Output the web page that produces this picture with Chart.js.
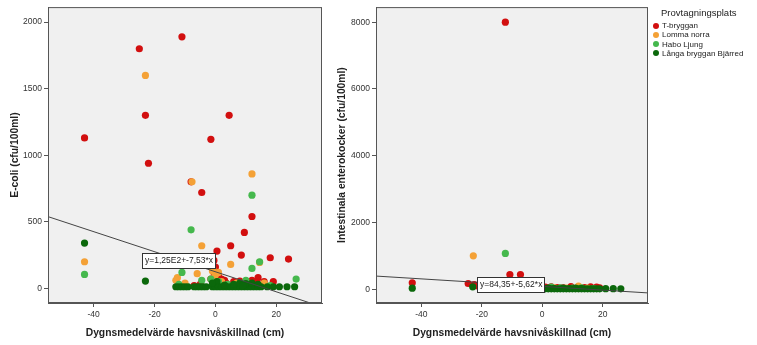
<!DOCTYPE html>
<html>
<head>
<meta charset="utf-8">
<script src="https://cdn.jsdelivr.net/npm/chart.js@4.4.0/dist/chart.umd.min.js"></script>
<style>
  body { margin: 0; background: #fff; width: 757px; height: 345px; position: relative; overflow: hidden; font-family: "Liberation Sans", Arial, sans-serif; }
  #c1 { position: absolute; left: 0; top: 0; }
  #c2 { position: absolute; left: 331px; top: 0; }
  #legend { position: absolute; left: 653px; top: 7px; color: #222; }
  #legend .title { margin-left: 8px; margin-bottom: 2px; font-size: 9.5px; height: 12px; line-height: 12px; }
  #legend .item { height: 9.3px; line-height: 9.3px; white-space: nowrap; font-size: 8px; }
  #legend .dot { display: inline-block; width: 6px; height: 6px; border-radius: 50%; margin-right: 3px; vertical-align: -0.5px; }
</style>
</head>
<body>
<canvas id="c1" width="330" height="345"></canvas>
<canvas id="c2" width="330" height="345"></canvas>
<div id="legend"></div>
<script>
// Platser och färger
var platser = ['T-bryggan', 'Lomma norra', 'Habo Ljung', 'Långa bryggan Bjärred'];
var farger = ['#d20f0f', '#f4a136', '#45b84d', '#0b680b'];

// E-coli (x = havsnivåskillnad, y = cfu/100ml)
var ecoliTbryggan = [[-43,1130],[-25,1800],[-23,1300],[-22,940],[-11,1890],[-8,800],[4.5,1300],[-1.5,1120],[-4.5,720],[12,540],[9.5,420],[0.5,280],[5,320],[8.5,250],[18,230],[24,220],[-0.5,210],[0,160],[-0.5,120],[1,90],[2,70],[3,60],[6,50],[8,55],[10,45],[12,60],[14,80],[16,50],[19,50],[-1.5,70],[-7,20],[-5,30],[3.5,40],[11,30],[13.5,40],[15,20]];
var ecoliLomma = [[-23,1600],[-7.7,800],[12,860],[-43,200],[-4.5,320],[5,180],[14.5,195],[-12.5,80],[-6,110],[-0.8,140],[0,100],[-10,40],[2,50],[7,40],[9,30],[16,40],[-13,60],[1,120],[-1,130]];
var ecoliHabo = [[-43,105],[-8,440],[12,700],[12,150],[14.5,200],[-11,120],[26.5,70],[-4.5,60],[-1.5,70],[1,50],[4,30],[8,40],[-12,30],[18,20],[10,60]];
var ecoliLanga = [[-43,340],[-23,55],[-13,12],[-12,12],[-11,12],[-10,12],[-9,12],[-7,12],[-6,12],[-5,12],[-4,12],[-3,12],[-1,12],[-0.5,30],[0,12],[0.5,50],[1,12],[2,12],[3,12],[4,12],[5,12],[6,12],[7,12],[8,12],[9,12],[10,12],[11,12],[12,12],[13,12],[14,12],[15,12],[17,12],[19,12],[21,12],[23.5,12],[26,12],[3,25],[6,30],[8,40],[10,35],[12,40],[14,30],[9,20],[-1,40]];

// Intestinala enterokocker
var enteroTbryggan = [[-43,190],[-24.5,170],[-22.5,140],[-21.5,100],[-12.2,8000],[-10.7,440],[-7.2,440],[1,60],[3,70],[5,50],[7,40],[9.5,80],[12,60],[14,50],[16,70],[18,60],[19,40],[2,30],[6,30]];
var enteroLomma = [[-22.8,1000],[12,90],[4,40],[8,30],[2,20],[15,30],[-1,20]];
var enteroHabo = [[-12.2,1070],[3,60],[6,40],[10,30],[13,40],[17,20]];
var enteroLanga = [[-43,30],[-23,70],[0,10],[1,10],[2,10],[3,10],[4,10],[5,10],[6,10],[7,10],[8,10],[9,10],[10,10],[11,10],[12,10],[13,10],[14,10],[15,10],[16,10],[17,10],[18,10],[19,10],[21,15],[23.5,15],[26,10],[2,30],[4,20],[7,30],[9,20],[11,30],[13,20]];

// Anpassningslinjer (ändpunkter)
var linjeX = [-55, 35];
var linjeEcoli = [539, -139];
var linjeEntero = [393, -112];
var etikettEcoli = 'y=1,25E2+-7,53*x';
var etikettEntero = 'y=84,35+-5,62*x';

var xTicks = [-40, -20, 0, 20];
var ecoliTicks = [0, 500, 1000, 1500, 2000];
var enteroTicks = [0, 2000, 4000, 6000, 8000];

var FONT = '"Liberation Sans", Arial, sans-serif';

function punkter(lista) {
    return lista.map(function (p) { return { x: p[0], y: p[1] }; });
}

// Bakgrund, ram runt ritytan och etikett för linjen
var ramPlugin = {
    id: 'ram',
    beforeDraw: function (chart) {
        var a = chart.chartArea, ctx = chart.ctx;
        ctx.save();
        ctx.fillStyle = '#f0f0f0';
        ctx.fillRect(a.left, a.top, a.right - a.left, a.bottom - a.top);
        ctx.restore();
    },
    afterDraw: function (chart) {
        var a = chart.chartArea, ctx = chart.ctx;
        ctx.save();
        ctx.strokeStyle = '#555';
        ctx.lineWidth = 1;
        ctx.strokeRect(a.left + 0.5, a.top + 0.5, a.right - a.left - 1, a.bottom - a.top - 1);
        var o = chart.options.plugins.ram;
        var xs = chart.scales.x, ys = chart.scales.y;
        ctx.font = '8.5px ' + FONT;
        var w = ctx.measureText(o.text).width;
        var right = Math.round(xs.getPixelForValue(o.x));
        var cy = Math.round(ys.getPixelForValue(o.y));
        var left = Math.round(right - w - 5);
        ctx.fillStyle = '#fff';
        ctx.fillRect(left, cy - 7, right - left, 15);
        ctx.strokeStyle = '#333';
        ctx.strokeRect(left + 0.5, cy - 7 + 0.5, right - left, 15);
        ctx.fillStyle = '#222';
        ctx.textBaseline = 'middle';
        ctx.fillText(o.text, left + 3, cy + 1);
        ctx.restore();
    }
};

function skapaDiagram(id, serier, linjeY, yMin, yMax, yTicks, yTitel, yBredd, hogerPad, titelPad, etikett, etikettX, etikettY) {
    var datasets = [{
        type: 'line',
        data: linjeX.map(function (x, i) { return { x: x, y: linjeY[i] }; }),
        borderColor: '#444',
        borderWidth: 1,
        pointRadius: 0,
        fill: false,
        clip: 0
    }];
    // mörkgrön överst, sedan ljusgrön, orange, röd
    for (var i = serier.length - 1; i >= 0; i--) {
        datasets.push({
            label: platser[i],
            data: punkter(serier[i]),
            backgroundColor: farger[i],
            borderColor: farger[i],
            borderWidth: 0,
            pointRadius: 3.6
        });
    }
    var tickFont = { family: FONT, size: 8.5 };
    var titelFont = { family: FONT, size: 10.3, weight: 'bold' };
    return new Chart(document.getElementById(id), {
        type: 'scatter',
        data: { datasets: datasets },
        plugins: [ramPlugin],
        options: {
            responsive: false,
            animation: false,
            layout: { padding: { top: 3, right: hogerPad, left: 0, bottom: 0 } },
            plugins: {
                legend: { display: false },
                tooltip: { enabled: false },
                ram: { text: etikett, x: etikettX, y: etikettY }
            },
            scales: {
                x: {
                    type: 'linear',
                    min: -55, max: 35,
                    afterBuildTicks: function (s) { s.ticks = xTicks.map(function (v) { return { value: v }; }); },
                    afterFit: function (s) { s.height = 42; },
                    grid: { drawOnChartArea: false, drawTicks: true, tickLength: 4, color: '#555' },
                    border: { display: true, color: '#555' },
                    ticks: { font: tickFont, color: '#333', padding: 3, maxRotation: 0, callback: function (v) { return String(v); } },
                    title: { display: true, text: 'Dygnsmedelvärde havsnivåskillnad (cm)', font: titelFont, color: '#222', padding: { top: 0, bottom: 6 } }
                },
                y: {
                    type: 'linear',
                    min: yMin, max: yMax,
                    afterBuildTicks: function (s) { s.ticks = yTicks.map(function (v) { return { value: v }; }); },
                    afterFit: function (s) { s.width = yBredd; },
                    grid: { drawOnChartArea: false, drawTicks: true, tickLength: 4, color: '#555' },
                    border: { display: true, color: '#555' },
                    ticks: { font: tickFont, color: '#333', padding: 2, callback: function (v) { return String(v); } },
                    title: { display: true, text: yTitel, font: titelFont, color: '#222', padding: { top: titelPad, bottom: 0 } }
                }
            }
        }
    });
}

skapaDiagram('c1', [ecoliTbryggan, ecoliLomma, ecoliHabo, ecoliLanga], linjeEcoli, -110, 2113, ecoliTicks,
    'E-coli (cfu/100ml)', 48, 8, 9, etikettEcoli, 0, 213);
skapaDiagram('c2', [enteroTbryggan, enteroLomma, enteroHabo, enteroLanga], linjeEntero, -414, 8452, enteroTicks,
    'Intestinala enterokocker (cfu/100ml)', 45, 13, 5, etikettEntero, 0.6, 148);

// Förklaring
var leg = document.getElementById('legend');
var html = '<div class="title">Provtagningsplats</div>';
for (var i = 0; i < platser.length; i++) {
    html += '<div class="item"><span class="dot" style="background:' + farger[i] + '"></span>' + platser[i] + '</div>';
}
leg.innerHTML = html;
</script>
</body>
</html>
